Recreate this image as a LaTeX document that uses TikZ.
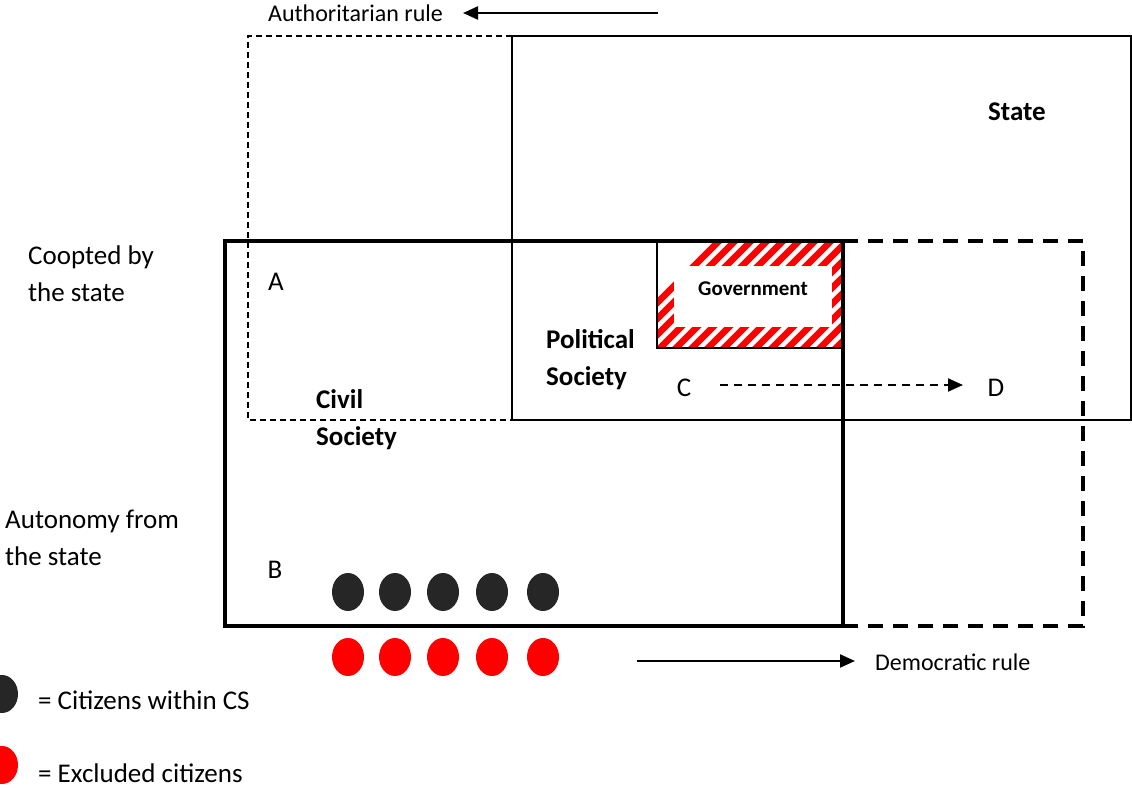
\documentclass[tikz,border=0pt]{standalone}
\usepackage{fontspec}
\setmainfont{Carlito}
\usetikzlibrary{shapes.geometric,arrows.meta}
\definecolor{dotblack}{HTML}{262626}
\definecolor{hatchred}{HTML}{FF0000}
\tikzset{
  lbl/.style={font=\fontsize{27}{37}\selectfont, align=left, inner sep=0pt},
  slbl/.style={font=\fontsize{24}{30}\selectfont, align=left, inner sep=0pt},
  blbl/.style={font=\fontsize{27}{37}\selectfont\bfseries, align=left, inner sep=0pt},
  thinbox/.style={line width=1.2pt},
  thickbox/.style={line width=3.2pt},
  cit/.style={ellipse, minimum width=32pt, minimum height=38pt, inner sep=0pt, fill=dotblack},
  exc/.style={ellipse, minimum width=32pt, minimum height=38pt, inner sep=0pt, fill=hatchred},
  arr/.style={line width=2pt, -{Triangle[length=15pt,width=13pt]}},
}
\begin{document}
\begin{tikzpicture}[x=1pt,y=-1pt]
\useasboundingbox (0,0) rectangle (1132,787);
% State box
\draw[thinbox] (512,36) rectangle (1131,420);
% authoritarian dashed extension
\draw[thinbox, dash pattern=on 6pt off 4pt] (512,36) -- (248,36) -- (248,420) -- (512,420);
% hatched government
\begin{scope}
\clip (657,241) rectangle (843,348);
\foreach \i in {0,...,24} {
  \draw[hatchred, line width=6.5pt] (600+\i*16,360) -- ++(150,-150);
}
\end{scope}
\fill[white] (674,266) rectangle (832,327);
\draw[line width=1.2pt] (843,241) -- (657,241) -- (657,348) -- (843,348);
\node[font=\fontsize{21}{24}\selectfont\bfseries, inner sep=0pt] (gov) at (753,289) {Government};
% Civil society box
\draw[thickbox] (225,241) rectangle (843,626);
% democratic dashed extension
\draw[thickbox, dash pattern=on 15pt off 10pt] (843,241) -- (1083,241) -- (1083,626) -- (843,626);
% top arrow
\node[slbl, anchor=west] (auth) at (268,13) {Authoritarian rule};
\coordinate (authstart) at (658,13);
\coordinate (authend) at (463,13);
\draw[arr] (authstart) -- (authend);
% labels
\node[blbl, anchor=west] (state) at (988,112) {State};
\node[lbl, anchor=west] (coopt) at (28,274) {Coopted by\\the state};
\node[lbl, anchor=west] (auton) at (5,538) {Autonomy from\\the state};
\node[lbl] (A) at (276,282) {A};
\node[lbl] (B) at (275,570) {B};
\node[lbl] (C) at (684,388) {C};
\node[lbl] (D) at (996,388) {D};
\node[blbl, anchor=west] (pol) at (546,360) {Political\\Society};
\node[blbl, anchor=west] (civ) at (316,420) {Civil\\Society};
% C to D
\coordinate (cstart) at (720,385);
\coordinate (dend) at (963,385);
\draw[line width=2pt, dash pattern=on 8pt off 6pt, -{Triangle[length=15pt,width=13pt]}] (cstart) -- (dend);
% citizens
\foreach \x [count=\k] in {348,395,443,492,543} {
  \node[cit] (c\k) at (\x,592) {};
  \node[exc] (e\k) at (\x,657) {};
}
% democratic rule
\node[slbl, anchor=west] (dem) at (875,662) {Democratic rule};
\coordinate (demstart) at (637,661);
\coordinate (demend) at (855,661);
\draw[arr] (demstart) -- (demend);
% legend
\node[cit] (lc) at (2,694) {};
\node[exc] (le) at (2,765) {};
\node[lbl, anchor=west] (lct) at (38,700) {= Citizens within CS};
\node[lbl, anchor=west] (let) at (38,773) {= Excluded citizens};
\end{tikzpicture}
\end{document}
